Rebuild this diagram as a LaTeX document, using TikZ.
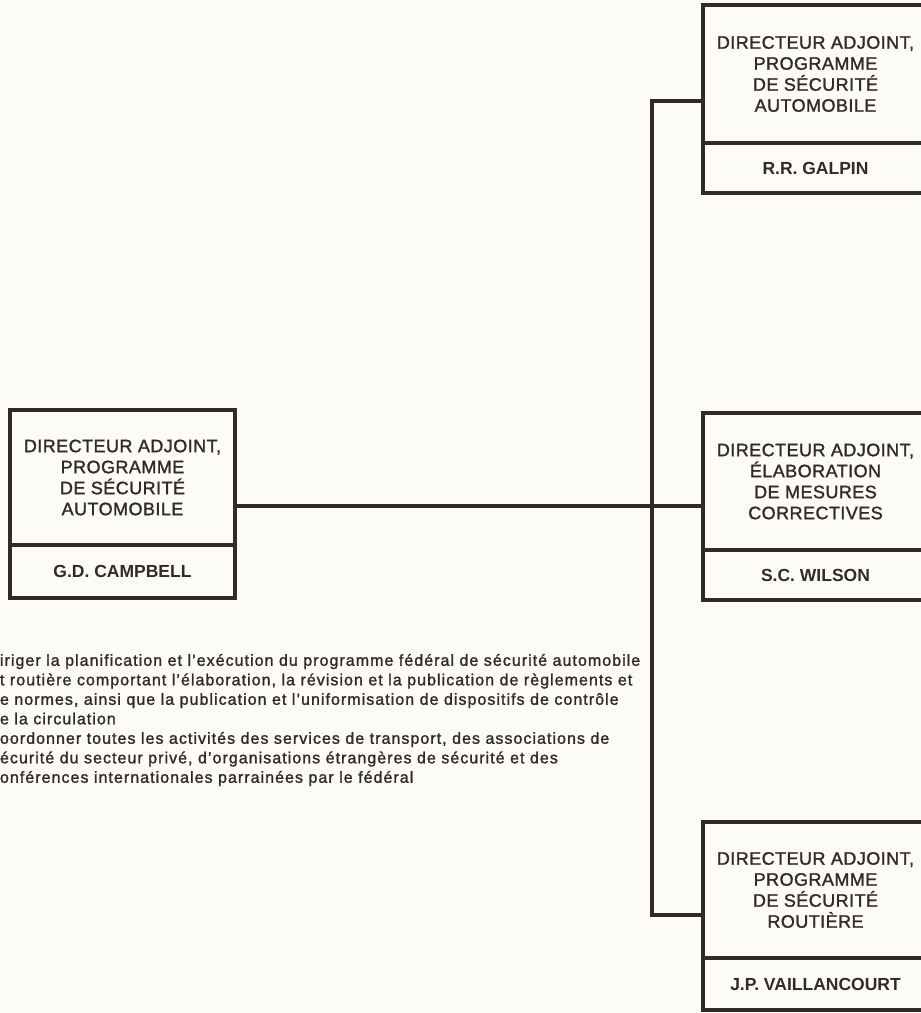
\documentclass[tikz,border=0pt]{standalone}
\usepackage{fontspec}
\setmainfont{Liberation Sans}
\newfontfamily\chartfont[LetterSpace=2.5, FakeBold=1.4]{Liberation Sans}
\newfontfamily\dutyfont[LetterSpace=6.5, FakeBold=1.4]{Liberation Sans}
\usetikzlibrary{calc,positioning}
\definecolor{ink}{RGB}{50,42,38}
\definecolor{paper}{RGB}{252,251,247}

\tikzset{
  titlebox/.style={draw=ink, line width=3.2pt, minimum width=225pt, align=center,
    text=ink, font=\chartfont\fontsize{18}{21}\selectfont},
  namebox/.style={draw=ink, line width=3.2pt, minimum width=225pt,
    text=ink, font=\fontsize{17.5}{21}\selectfont\bfseries},
  link/.style={draw=ink, line width=3.2pt}
}

\begin{document}
\begin{tikzpicture}[x=1pt,y=-1pt,inner sep=0pt,outer sep=0pt]
    \clip (0,0) rectangle (921,1013);
    \fill[paper] (0,0) rectangle (921,1013);

    % G.D. Campbell
    \node[titlebox, minimum height=135pt, anchor=north west] (campbell_title) at (10,410)
    {DIRECTEUR ADJOINT,\\ PROGRAMME\\ DE SÉCURITÉ\\ AUTOMOBILE};
    \node[namebox, minimum height=53pt, below=0pt of campbell_title] (campbell_name)
    {G.D. CAMPBELL};

    % R.R. Galpin
    \node[titlebox, minimum height=138pt, anchor=north west] (galpin_title) at (703,5)
    {DIRECTEUR ADJOINT,\\ PROGRAMME\\ DE SÉCURITÉ\\ AUTOMOBILE};
    \node[namebox, minimum height=50pt, below=0pt of galpin_title] (galpin_name)
    {R.R. GALPIN};

    % S.C. Wilson
    \node[titlebox, minimum height=137pt, anchor=north west] (wilson_title) at (703,413)
    {DIRECTEUR ADJOINT,\\ ÉLABORATION\\ DE MESURES\\ CORRECTIVES};
    \node[namebox, minimum height=50pt, below=0pt of wilson_title] (wilson_name)
    {S.C. WILSON};

    % J.P. Vaillancourt
    \node[titlebox, minimum height=136pt, anchor=north west] (vaillancourt_title) at (703,822)
    {DIRECTEUR ADJOINT,\\ PROGRAMME\\ DE SÉCURITÉ\\ ROUTIÈRE};
    \node[namebox, minimum height=52pt, below=0pt of vaillancourt_title] (vaillancourt_name)
    {J.P. VAILLANCOURT};

    % links
    \coordinate (spine_top) at (652,101);
    \coordinate (spine_mid) at (652,506);
    \coordinate (spine_bot) at (652,915);
    \draw[link] (galpin_title.west |- spine_top) -- (spine_top) -- (spine_bot)
        -- (vaillancourt_title.west |- spine_bot);
    \draw[link] (campbell_title.east |- spine_mid) -- (wilson_title.west |- spine_mid);

    % duties
    \node[anchor=north west, align=left, text=ink, font=\dutyfont\fontsize{16}{19.5}\selectfont] (duties) at (0,654)
    {iriger la planification et l’exécution du programme fédéral de sécurité automobile\\
     t routière comportant l’élaboration, la révision et la publication de règlements et\\
     e normes, ainsi que la publication et l’uniformisation de dispositifs de contrôle\\
     e la circulation\\
     oordonner toutes les activités des services de transport, des associations de\\
     écurité du secteur privé, d’organisations étrangères de sécurité et des\\
     onférences internationales parrainées par le fédéral};

\end{tikzpicture}
\end{document}
